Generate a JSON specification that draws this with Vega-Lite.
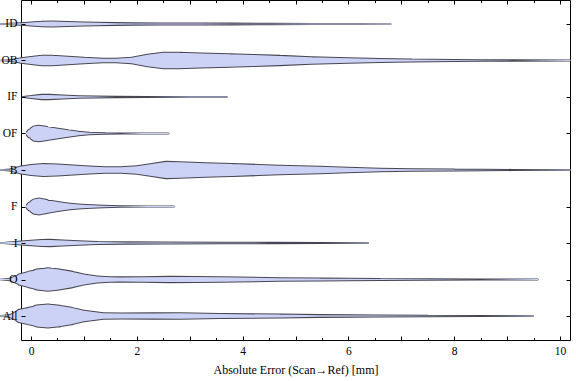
{
  "$schema": "https://vega.github.io/schema/vega-lite/v6.json",
  "width": 549,
  "height": 340,
  "autosize": "none",
  "padding": {"left": 21, "top": 0, "right": 6, "bottom": 41},
  "background": "white",
  "config": {
    "view": {"stroke": "black", "strokeWidth": 1},
    "axis": {"grid": false, "domain": false, "tickColor": "black", "labelColor": "black", "labelFont": "Liberation Serif", "labelFontSize": 11.5, "titleFont": "Liberation Serif", "titleFontSize": 12, "titleFontWeight": "normal", "titleColor": "black"}
  },
  "data": {"values": [
    {"c":"ID","x":-0.59,"d":0.03},{"c":"ID","x":-0.19,"d":0.125},{"c":"ID","x":0.0,"d":0.188},{"c":"ID","x":0.2,"d":0.25},{"c":"ID","x":0.4,"d":0.263},{"c":"ID","x":0.7,"d":0.229},{"c":"ID","x":1.0,"d":0.188},{"c":"ID","x":1.25,"d":0.167},{"c":"ID","x":1.6,"d":0.133},{"c":"ID","x":1.9,"d":0.113},{"c":"ID","x":2.5,"d":0.104},{"c":"ID","x":3.2,"d":0.104},{"c":"ID","x":3.8,"d":0.092},{"c":"ID","x":4.5,"d":0.075},{"c":"ID","x":5.4,"d":0.058},{"c":"ID","x":6.2,"d":0.05},{"c":"ID","x":6.8,"d":0.045},
    {"c":"OB","x":-0.59,"d":0.03},{"c":"OB","x":-0.4,"d":0.08},{"c":"OB","x":-0.19,"d":0.25},{"c":"OB","x":0.0,"d":0.354},{"c":"OB","x":0.2,"d":0.458},{"c":"OB","x":0.4,"d":0.458},{"c":"OB","x":0.7,"d":0.375},{"c":"OB","x":1.0,"d":0.292},{"c":"OB","x":1.36,"d":0.208},{"c":"OB","x":1.6,"d":0.208},{"c":"OB","x":1.9,"d":0.292},{"c":"OB","x":2.2,"d":0.542},{"c":"OB","x":2.5,"d":0.708},{"c":"OB","x":2.8,"d":0.7},{"c":"OB","x":3.2,"d":0.646},{"c":"OB","x":3.76,"d":0.583},{"c":"OB","x":4.2,"d":0.521},{"c":"OB","x":4.7,"d":0.446},{"c":"OB","x":5.3,"d":0.333},{"c":"OB","x":6.0,"d":0.25},{"c":"OB","x":6.6,"d":0.188},{"c":"OB","x":7.2,"d":0.146},{"c":"OB","x":8.0,"d":0.104},{"c":"OB","x":8.5,"d":0.088},{"c":"OB","x":9.1,"d":0.071},{"c":"OB","x":10.19,"d":0.054},
    {"c":"IF","x":-0.15,"d":0.063},{"c":"IF","x":0.0,"d":0.146},{"c":"IF","x":0.2,"d":0.238},{"c":"IF","x":0.35,"d":0.238},{"c":"IF","x":0.6,"d":0.188},{"c":"IF","x":0.9,"d":0.125},{"c":"IF","x":1.2,"d":0.096},{"c":"IF","x":1.6,"d":0.071},{"c":"IF","x":2.2,"d":0.063},{"c":"IF","x":3.0,"d":0.054},{"c":"IF","x":3.7,"d":0.05},
    {"c":"OF","x":-0.1,"d":0.0},{"c":"OF","x":0.0,"d":0.417},{"c":"OF","x":0.1,"d":0.688},{"c":"OF","x":0.15,"d":0.708},{"c":"OF","x":0.25,"d":0.646},{"c":"OF","x":0.42,"d":0.521},{"c":"OF","x":0.67,"d":0.354},{"c":"OF","x":0.9,"d":0.208},{"c":"OF","x":1.1,"d":0.125},{"c":"OF","x":1.4,"d":0.083},{"c":"OF","x":1.7,"d":0.063},{"c":"OF","x":2.1,"d":0.054},{"c":"OF","x":2.6,"d":0.05},
    {"c":"B","x":-0.59,"d":0.03},{"c":"B","x":-0.4,"d":0.1},{"c":"B","x":-0.19,"d":0.346},{"c":"B","x":0.0,"d":0.479},{"c":"B","x":0.23,"d":0.554},{"c":"B","x":0.5,"d":0.521},{"c":"B","x":0.8,"d":0.438},{"c":"B","x":1.1,"d":0.354},{"c":"B","x":1.4,"d":0.292},{"c":"B","x":1.7,"d":0.292},{"c":"B","x":2.0,"d":0.375},{"c":"B","x":2.25,"d":0.542},{"c":"B","x":2.55,"d":0.738},{"c":"B","x":2.82,"d":0.708},{"c":"B","x":3.3,"d":0.625},{"c":"B","x":3.8,"d":0.563},{"c":"B","x":4.3,"d":0.479},{"c":"B","x":4.7,"d":0.417},{"c":"B","x":5.46,"d":0.333},{"c":"B","x":6.0,"d":0.25},{"c":"B","x":6.6,"d":0.167},{"c":"B","x":7.2,"d":0.125},{"c":"B","x":8.0,"d":0.096},{"c":"B","x":9.1,"d":0.067},{"c":"B","x":10.19,"d":0.054},
    {"c":"F","x":-0.1,"d":0.0},{"c":"F","x":0.0,"d":0.417},{"c":"F","x":0.1,"d":0.688},{"c":"F","x":0.15,"d":0.721},{"c":"F","x":0.25,"d":0.646},{"c":"F","x":0.42,"d":0.5},{"c":"F","x":0.6,"d":0.375},{"c":"F","x":0.74,"d":0.292},{"c":"F","x":0.9,"d":0.221},{"c":"F","x":1.05,"d":0.179},{"c":"F","x":1.37,"d":0.125},{"c":"F","x":1.68,"d":0.083},{"c":"F","x":2.2,"d":0.058},{"c":"F","x":2.7,"d":0.05},
    {"c":"I","x":-0.59,"d":0.03},{"c":"I","x":-0.19,"d":0.179},{"c":"I","x":0.0,"d":0.25},{"c":"I","x":0.2,"d":0.304},{"c":"I","x":0.36,"d":0.321},{"c":"I","x":0.6,"d":0.271},{"c":"I","x":0.9,"d":0.2},{"c":"I","x":1.25,"d":0.138},{"c":"I","x":1.8,"d":0.113},{"c":"I","x":2.5,"d":0.096},{"c":"I","x":3.6,"d":0.083},{"c":"I","x":4.5,"d":0.071},{"c":"I","x":5.5,"d":0.063},{"c":"I","x":6.37,"d":0.05},
    {"c":"O","x":-0.59,"d":0.03},{"c":"O","x":-0.4,"d":0.12},{"c":"O","x":-0.19,"d":0.513},{"c":"O","x":0.0,"d":0.75},{"c":"O","x":0.15,"d":0.917},{"c":"O","x":0.32,"d":1.0},{"c":"O","x":0.5,"d":0.917},{"c":"O","x":0.74,"d":0.738},{"c":"O","x":1.0,"d":0.479},{"c":"O","x":1.25,"d":0.313},{"c":"O","x":1.5,"d":0.25},{"c":"O","x":1.68,"d":0.238},{"c":"O","x":2.1,"d":0.25},{"c":"O","x":2.63,"d":0.279},{"c":"O","x":3.1,"d":0.271},{"c":"O","x":3.57,"d":0.25},{"c":"O","x":4.7,"d":0.167},{"c":"O","x":5.46,"d":0.138},{"c":"O","x":6.6,"d":0.104},{"c":"O","x":7.5,"d":0.083},{"c":"O","x":8.5,"d":0.067},{"c":"O","x":9.58,"d":0.05},
    {"c":"All","x":-0.59,"d":0.03},{"c":"All","x":-0.4,"d":0.14},{"c":"All","x":-0.19,"d":0.604},{"c":"All","x":0.0,"d":0.792},{"c":"All","x":0.15,"d":0.958},{"c":"All","x":0.32,"d":1.013},{"c":"All","x":0.5,"d":0.938},{"c":"All","x":0.74,"d":0.763},{"c":"All","x":1.0,"d":0.5},{"c":"All","x":1.37,"d":0.292},{"c":"All","x":1.7,"d":0.271},{"c":"All","x":2.3,"d":0.279},{"c":"All","x":2.82,"d":0.292},{"c":"All","x":3.57,"d":0.229},{"c":"All","x":4.7,"d":0.179},{"c":"All","x":5.46,"d":0.133},{"c":"All","x":6.6,"d":0.104},{"c":"All","x":7.5,"d":0.083},{"c":"All","x":8.5,"d":0.067},{"c":"All","x":9.49,"d":0.05}
  ]},
  "encoding": {
    "detail": {"field": "c"}
  },
  "layer": [
    {
      "mark": {"type": "trail", "color": "#474752", "clip": false},
      "encoding": {
        "x": {"field": "x", "type": "quantitative", "scale": {"domain": [-0.19, 10.19], "nice": false, "zero": false},
              "axis": {"orient": "bottom", "title": "Absolute Error (Scan\u2192Ref) [mm]", "values": [0,0.5,1,1.5,2,2.5,3,3.5,4,4.5,5,5.5,6,6.5,7,7.5,8,8.5,9,9.5,10],
                       "labelExpr": "datum.value % 2 === 0 ? format(datum.value, 'd') : ''",
                       "tickSize": {"condition": {"test": "datum.value % 1 === 0", "value": -4}, "value": -2.5},
                       "labelPadding": 9, "titlePadding": 8}},
        "y": {"field": "c", "type": "nominal", "sort": null, "scale": {"domain": ["ID","OB","IF","OF","B","F","I","O","All"], "padding": 0.657},
              "axis": {"orient": "left", "title": null, "tickSize": -4, "labelPadding": 8, "zindex": 1}},
        "size": {"field": "d", "type": "quantitative", "scale": {"domain": [0, 1], "range": [0.6, 24.6], "zero": false}, "legend": null}
      }
    },
    {
      "mark": {"type": "trail", "color": "#cbd2f5", "clip": false},
      "encoding": {
        "x": {"field": "x", "type": "quantitative", "scale": {"domain": [-0.19, 10.19], "nice": false, "zero": false},
              "axis": {"orient": "top", "title": null, "labels": false, "values": [0,0.5,1,1.5,2,2.5,3,3.5,4,4.5,5,5.5,6,6.5,7,7.5,8,8.5,9,9.5,10],
                       "tickSize": {"condition": {"test": "datum.value % 1 === 0", "value": -4}, "value": -2.5}}},
        "y": {"field": "c", "type": "nominal", "sort": null, "scale": {"domain": ["ID","OB","IF","OF","B","F","I","O","All"], "padding": 0.657},
              "axis": {"orient": "right", "title": null, "labels": false, "tickSize": -4}},
        "size": {"field": "d", "type": "quantitative", "scale": {"domain": [0.0625, 1.0625], "range": [0, 24], "zero": false, "clamp": true}, "legend": null}
      }
    }
  ],
  "resolve": {"scale": {"size": "independent"}, "axis": {"x": "independent", "y": "independent"}}
}
